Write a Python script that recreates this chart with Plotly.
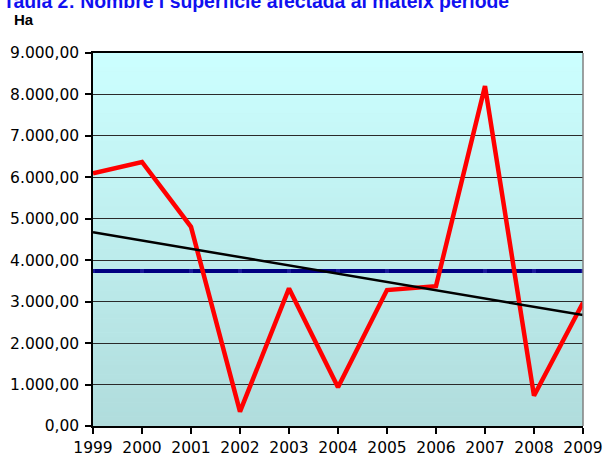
import numpy as np
import plotly.graph_objects as go

years = [1999, 2000, 2001, 2002, 2003, 2004, 2005, 2006, 2007, 2008, 2009]
hectares = [6100, 6370, 4805, 345, 3320, 933, 3279, 3375, 8200, 730, 2973]
average = [3740] * len(years)
y_ticks = [0, 1000, 2000, 3000, 4000, 5000, 6000, 7000, 8000, 9000]

title_text = "Taula 2: Nombre i superfície afectada al mateix període"
unit_text = "Ha"

# linear trend (Excel-style trendline)
coef = np.polyfit(years, hectares, 1)
trend = list(np.polyval(coef, [years[0], years[-1]]))

W, H = 603, 458
ml, mr, mt, mb = 93, 20, 53, 32
pw, ph = W - ml - mr, H - mt - mb

fig = go.Figure()

fig.add_trace(go.Scatter(x=years, y=average, mode="lines+markers",
                         line=dict(color="#000080", width=4),
                         marker=dict(symbol="square", size=4, color="#1a1a9a"),
                         hoverinfo="skip", showlegend=False))
fig.add_trace(go.Scatter(x=years, y=hectares, mode="lines",
                         line=dict(color="#FF0000", width=4.5),
                         showlegend=False))
fig.add_trace(go.Scatter(x=[years[0], years[-1]], y=trend, mode="lines",
                         line=dict(color="#000000", width=2.5),
                         showlegend=False))

# gradient background
shapes = []
n = 80
top = np.array([204, 255, 255])
bot = np.array([176, 220, 220])
for i in range(n):
    t = (i + 0.5) / n
    c = top * (1 - t) + bot * t
    shapes.append(dict(type="rect", xref="x domain", yref="y domain",
                       x0=0, x1=1, y0=1 - (i + 1) / n, y1=1 - i / n + 0.001,
                       fillcolor="rgb(%d,%d,%d)" % tuple(c.round()),
                       line=dict(width=0), layer="below"))
# right border grey
shapes.append(dict(type="line", xref="x domain", yref="y domain",
                   x0=1, x1=1, y0=0, y1=1,
                   line=dict(color="#808080", width=1.5), layer="above"))

fig.update_layout(
    width=W, height=H,
    margin=dict(l=ml, r=mr, t=mt, b=mb, autoexpand=False),
    paper_bgcolor="white", plot_bgcolor="#C8F4F4",
    separators=",.",
    shapes=shapes,
    font=dict(family="DejaVu Sans", size=15, color="black"),
    annotations=[
        dict(text="<b>%s</b>" % title_text, xref="paper", yref="paper",
             x=(1 - ml) / pw, y=(H - 1 - mb) / ph,
             xanchor="left", yanchor="middle", showarrow=False,
             font=dict(family="Liberation Sans", size=19.4, color="#1010F0")),
        dict(text="<b>%s</b>" % unit_text, xref="paper", yref="paper",
             x=(12 - ml) / pw, y=(H - 19.5 - mb) / ph,
             xanchor="left", yanchor="middle", showarrow=False,
             font=dict(family="Liberation Sans", size=15, color="black")),
    ],
)

fig.update_xaxes(range=[1999, 2009], tickvals=years, ticktext=[str(y) for y in years],
                 showgrid=False, zeroline=False, showline=True, linecolor="black",
                 linewidth=1.5, mirror=True, ticks="outside", ticklen=6,
                 tickcolor="black", tickwidth=1.5, tickfont=dict(size=15.5),
                 ticklabelstandoff=1, automargin=False)
fig.update_yaxes(range=[0, 9000], tickvals=y_ticks, tickformat=",.2f",
                 showgrid=True, gridcolor="#2a2a2a", gridwidth=1,
                 zeroline=False, showline=True, linecolor="black", linewidth=1.5,
                 ticks="outside", ticklen=6, tickcolor="black", tickwidth=1.5,
                 tickfont=dict(size=15.5), ticklabelstandoff=3, automargin=False)

fig.write_html("out.html", config={"displayModeBar": False},
               post_script="document.body.style.margin='0';")
